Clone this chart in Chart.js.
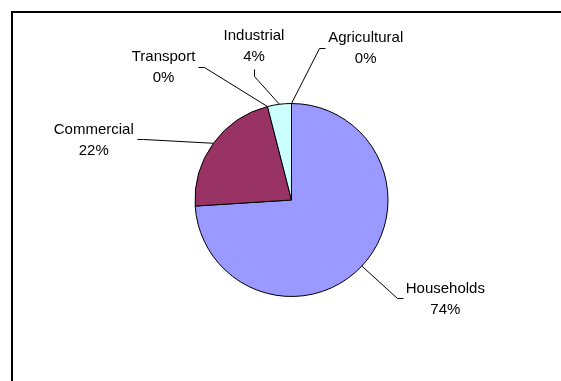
<!DOCTYPE html>
<html>
<head>
<meta charset="utf-8">
<script src="https://cdn.jsdelivr.net/npm/chart.js@4/dist/chart.umd.min.js"></script>
<style>
  html, body { margin: 0; padding: 0; background: #ffffff; }
  canvas { display: block; }
</style>
</head>
<body>
<canvas id="pie" width="561" height="381"></canvas>
<script>
// Energy use by sector (share of total)
const categories = ['Households', 'Commercial', 'Transport', 'Industrial', 'Agricultural'];
const shares = [74, 22, 0, 4, 0];
const sliceColors = ['#9999FF', '#993366', '#FFFFCC', '#CCFFFF', '#660066'];

// Where each label block sits relative to the edge of its slice, and which side its leader leaves from
const labelPlacement = [
  { dx: 83.5,   dy: 31.8,  side: 'left'   },
  { dx: -119.7, dy: -3.8,  side: 'right'  },
  { dx: -104,   dy: -40.0, side: 'right'  },
  { dx: -25.4,  dy: -58.6, side: 'bottom' },
  { dx: 74.2,   dy: -55.9, side: 'left'   }
];

const FONT = '15px "Liberation Sans", Arial, sans-serif';
const LINE_GAP = 21;

const framePlugin = {
  id: 'frame',
  beforeDraw(chart) {
    const ctx = chart.ctx;
    ctx.save();
    ctx.fillStyle = '#ffffff';
    ctx.fillRect(0, 0, chart.width, chart.height);
    ctx.strokeStyle = '#000000';
    ctx.lineWidth = 2;
    ctx.strokeRect(12, 12, chart.width + 20, chart.height + 20);
    ctx.restore();
  }
};

const leaderLabels = {
  id: 'leaderLabels',
  afterDatasetsDraw(chart) {
    const ctx = chart.ctx;
    const meta = chart.getDatasetMeta(0);
    const values = chart.data.datasets[0].data;
    const total = values.reduce((a, b) => a + b, 0);
    ctx.save();
    ctx.font = FONT;
    ctx.fillStyle = '#000000';
    ctx.strokeStyle = '#000000';
    ctx.lineWidth = 1;
    meta.data.forEach((arc, i) => {
      const p = arc.getProps(['x', 'y', 'startAngle', 'endAngle', 'outerRadius'], true);
      const mid = (p.startAngle + p.endAngle) / 2;
      const ax = p.x + Math.cos(mid) * p.outerRadius;
      const ay = p.y + Math.sin(mid) * p.outerRadius;
      const place = labelPlacement[i];
      const cx = ax + place.dx;
      const cy = ay + place.dy;
      const lines = [chart.data.labels[i], Math.round(values[i] / total * 100) + '%'];
      const w = Math.max(...lines.map(t => ctx.measureText(t).width));

      let ex, ey, bx, by;
      if (place.side === 'left') {
        ex = cx - w / 2 - 3; ey = cy; bx = ex - 6; by = cy;
      } else if (place.side === 'right') {
        ex = cx + w / 2 + 3; ey = cy; bx = ex + 6; by = cy;
      } else {
        ex = cx; ey = cy + LINE_GAP + 2.5; bx = cx; by = ey + 7;
      }
      ctx.beginPath();
      ctx.moveTo(Math.round(ex) + 0.5, Math.round(ey) + 0.5);
      ctx.lineTo(Math.round(bx) + 0.5, Math.round(by) + 0.5);
      ctx.lineTo(ax, ay);
      ctx.stroke();

      ctx.textAlign = 'center';
      ctx.textBaseline = 'alphabetic';
      ctx.fillText(lines[0], cx, cy - LINE_GAP / 2 + 5.3);
      ctx.fillText(lines[1], cx, cy + LINE_GAP / 2 + 5.3);
    });
    ctx.restore();
  }
};

new Chart(document.getElementById('pie'), {
  type: 'pie',
  data: {
    labels: categories,
    datasets: [{
      data: shares,
      backgroundColor: sliceColors,
      borderColor: '#000000',
      borderWidth: 1
    }]
  },
  options: {
    responsive: false,
    animation: false,
    layout: { padding: { left: 194, right: 172, top: 103, bottom: 84 } },
    plugins: {
      legend: { display: false },
      tooltip: { enabled: false }
    }
  },
  plugins: [framePlugin, leaderLabels]
});
</script>
</body>
</html>
